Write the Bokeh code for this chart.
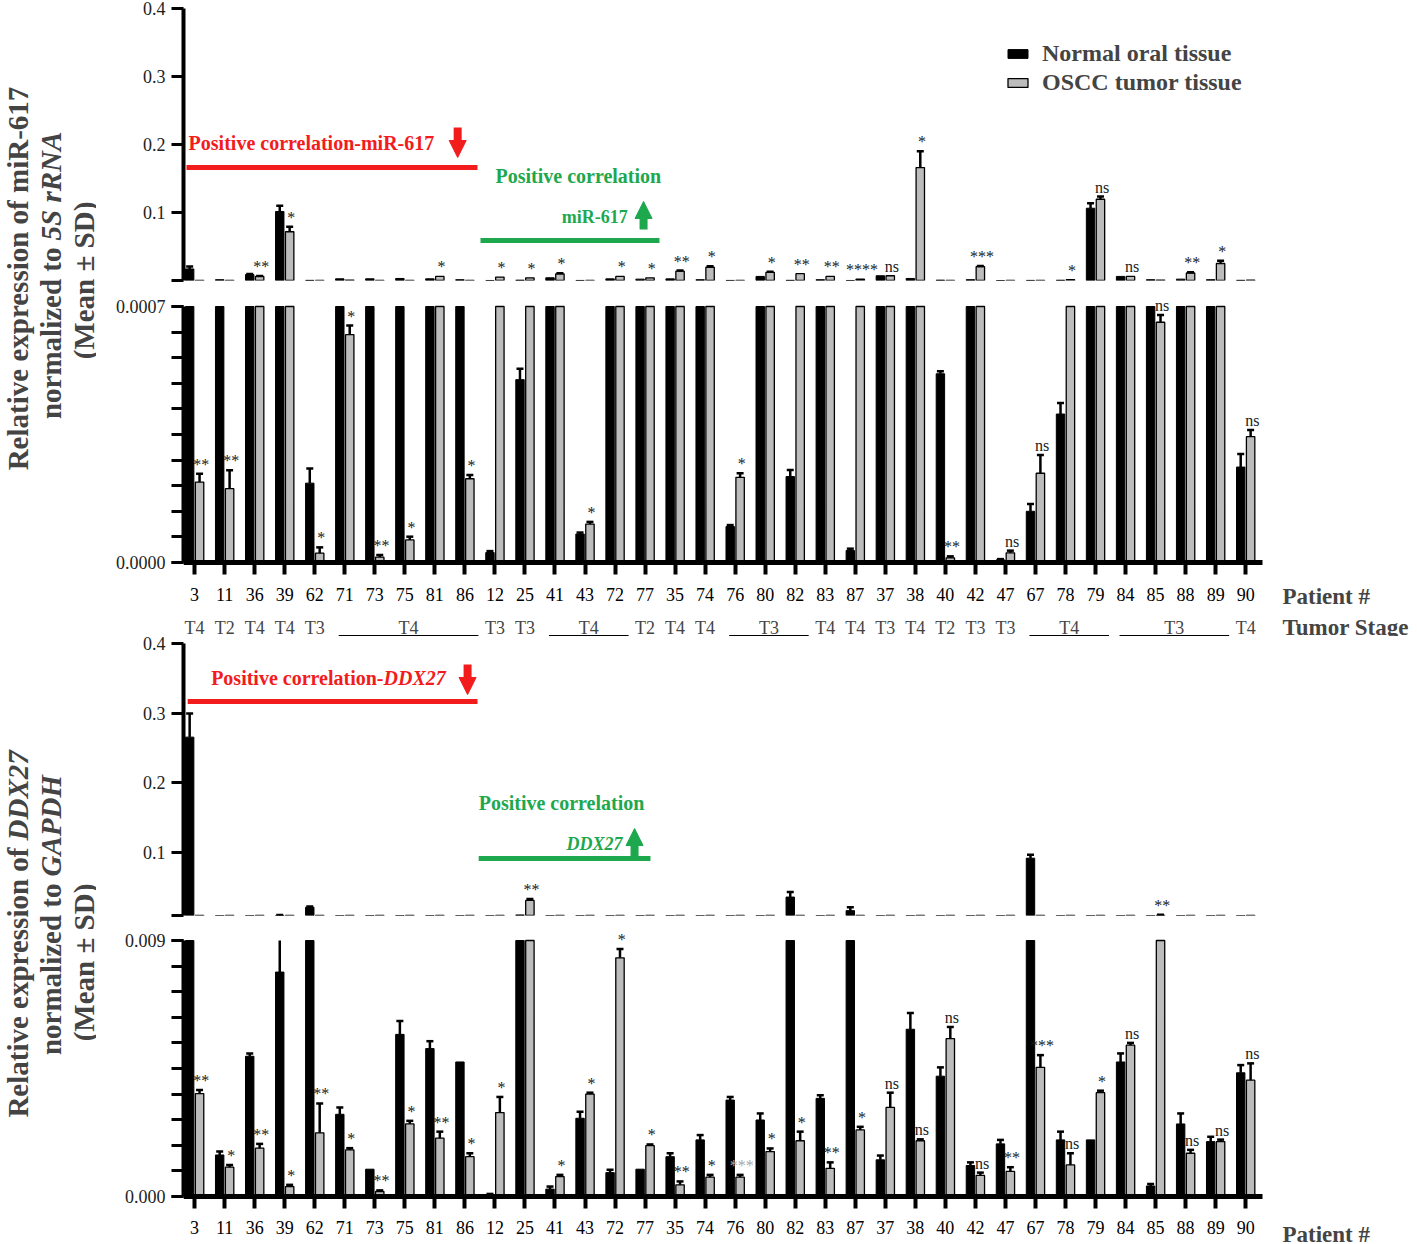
import math
import numpy as np
from bokeh.plotting import figure
from bokeh.models import (Range1d, FixedTicker, NumeralTickFormatter, Label, LabelSet, Arrow,
                          NormalHead, Legend, LegendItem, ColumnDataSource)
from bokeh.layouts import row, column
from bokeh.embed import file_html
from bokeh.resources import INLINE
from bokeh.core.properties import value

# ---------------- data ----------------
patients = ["3", "11", "36", "39", "62", "71", "73", "75", "81", "86",
            "12", "25", "41", "43", "72", "77", "35", "74",
            "76", "80", "82", "83", "87", "37", "38", "40", "42", "47",
            "67", "78", "79", "84", "85", "88", "89", "90"]
stages = ["T4", "T2", "T4", "T4", "T3", "T4", "T4", "T4", "T4", "T4",
          "T3", "T3", "T4", "T4", "T4", "T2", "T4", "T4",
          "T3", "T3", "T3", "T4", "T4", "T3", "T4", "T2", "T3", "T3",
          "T4", "T4", "T4", "T3", "T3", "T3", "T3", "T4"]
stage_groups = [("71", "86"), ("41", "72"), ("76", "82"), ("67", "79"), ("84", "89")]

# miR-617 normalized to 5S rRNA
mir_normal = [0.017, 0.0012, 0.0088, 0.1015, 0.000217, 0.0025, 0.0025, 0.003, 0.0025, 0.0012,
              0.0000272, 0.0005, 0.004, 0.0000779, 0.0024, 0.002, 0.0024, 0.0012,
              0.0000984, 0.006, 0.000235, 0.0012, 0.0000328, 0.007, 0.003, 0.000516, 0.0012, 0.0000073,
              0.00014, 0.000406, 0.1063, 0.006, 0.0012, 0.002, 0.0012, 0.000261]
mir_normal_sd = [0.0035, 0, 0.0008, 0.0085, 0.00004, 0, 0, 0, 0, 0,
                 0.000004, 0.00003, 0, 0.000004, 0, 0, 0, 0,
                 0.000004, 0, 0.000018, 0, 0.000005, 0, 0, 0.000007, 0, 0.000002,
                 0.00002, 0.00003, 0.0074, 0, 0, 0, 0, 0.000036]
mir_tumor = [0.00022, 0.000202, 0.006, 0.0717, 0.0000254, 0.000623, 0.0000145, 0.0000616, 0.006, 0.000229,
             0.005, 0.004, 0.0098, 0.000105, 0.006, 0.004, 0.0137, 0.0195,
             0.000233, 0.012, 0.01, 0.006, 0.002, 0.007, 0.166, 0.0000128, 0.0205, 0.0000264,
             0.000244, 0.0012, 0.1195, 0.006, 0.000657, 0.011, 0.025, 0.000344]
mir_tumor_sd = [0.000023, 0.00005, 0.0008, 0.0073, 0.000016, 0.000025, 0.000006, 0.000009, 0, 0.00001,
                0, 0, 0.001, 0.000006, 0, 0, 0.001, 0.0015,
                0.000011, 0.001, 0, 0, 0, 0, 0.024, 0.000004, 0.001, 0.000006,
                0.00005, 0, 0.004, 0, 0.00002, 0.001, 0.004, 0.000018]
mir_sig = ["**", "**", "**", "*", "*", "*", "**", "*", "*", "*",
           "*", "*", "*", "*", "*", "*", "**", "*",
           "*", "*", "**", "**", "****", "ns", "*", "**", "***", "ns",
           "ns", "*", "ns", "ns", "ns", "**", "*", "ns"]

# DDX27 normalized to GAPDH
ddx_normal = [0.2654, 0.00146, 0.00493, 0.00789, 0.0209, 0.00289, 0.00096, 0.0057, 0.0052, 0.00473,
              0.00006, 0.0098, 0.00026, 0.00275, 0.00084, 0.00096, 0.0014, 0.00199,
              0.00339, 0.00269, 0.0355, 0.00345, 0.016, 0.00129, 0.00588, 0.00423, 0.00109, 0.00185,
              0.0914, 0.00199, 0.00199, 0.00473, 0.00037, 0.00255, 0.00193, 0.00435]
ddx_normal_sd = [0.034, 0.00012, 0.0001, 0.0019, 0.001, 0.00024, 0, 0.00047, 0.00026, 0,
                 0.00003, 0, 0.00009, 0.00023, 0.0001, 0, 0.00012, 0.00017,
                 0.00011, 0.00023, 0.0073, 0.00011, 0.005, 0.00015, 0.00057, 0.00031, 0.00011, 0.00014,
                 0.005, 0.00029, 0, 0.0003, 0.00007, 0.00037, 0.00017, 0.00027]
ddx_tumor = [0.00362, 0.00103, 0.0017, 0.00035, 0.00224, 0.00164, 0.000175, 0.00255, 0.00205, 0.0014,
             0.00295, 0.0306, 0.0007, 0.0036, 0.00839, 0.00179, 0.00041, 0.00068,
             0.00068, 0.00158, 0.00196, 0.00099, 0.00234, 0.00313, 0.00196, 0.00555, 0.00074, 0.00088,
             0.00454, 0.00111, 0.00365, 0.00532, 0.0093, 0.00152, 0.00193, 0.00409]
ddx_tumor_sd = [0.00012, 0.00008, 0.00015, 0.00006, 0.00103, 0.00006, 0.00004, 0.00011, 0.00023, 0.00012,
                0.00055, 0.002, 0.00006, 0.00005, 0.00031, 0.00004, 0.00012, 0.00008,
                0.00008, 0.00011, 0.00032, 0.00021, 0.00011, 0.00052, 0.00005, 0.00041, 0.0001, 0.00015,
                0.00043, 0.00041, 0.00007, 0.00008, 0.0009, 0.00012, 0.00007, 0.00059]
ddx_sig = ["**", "*", "**", "*", "**", "*", "**", "*", "**", "*",
           "*", "**", "*", "*", "*", "*", "**", "*",
           "***", "*", "*", "**", "*", "ns", "ns", "ns", "ns", "**",
           "***", "ns", "*", "ns", "**", "ns", "ns", "ns"]
ddx_sig_faint = ["76"]

series_names = ["Normal oral tissue", "OSCC tumor tissue"]

# ---------------- style ----------------
SERIF = "Liberation Serif"
BLACK = "#000000"
GRAY = "#bcbcbc"
RED = "#f21c1c"
GREEN = "#1ea84e"
PX_X = 30.03                 # pixels per patient slot
FRAME_W = 1233
X_LO = -0.37
X_HI = X_LO + FRAME_W / PX_X
X_END = 35.56                # end of the drawn x axis
FIG_W = 87 + FRAME_W
idx = np.arange(len(patients))
pos = {p: i for i, p in enumerate(patients)}


def base_fig(height, ystart, yend, top, bottom, ybounds, xaxis=False):
    p = figure(width=FIG_W, height=height, x_range=Range1d(X_LO, X_HI), y_range=Range1d(ystart, yend),
               output_backend="svg", toolbar_location=None,
               x_axis_location="below" if xaxis else None,
               min_border_left=87, min_border_right=0, min_border_top=top, min_border_bottom=bottom)
    p.xgrid.visible = False
    p.ygrid.visible = False
    p.outline_line_color = None
    p.background_fill_color = "white"
    p.border_fill_color = "white"
    ax = p.yaxis[0]
    ax.bounds = ybounds
    ax.axis_line_width = 4
    ax.major_tick_line_width = 3
    ax.minor_tick_line_width = 3
    ax.major_tick_in = 0
    ax.major_tick_out = 12
    ax.minor_tick_in = 0
    ax.minor_tick_out = 12
    ax.major_label_text_font = SERIF
    ax.major_label_text_font_size = "18px"
    ax.major_label_text_color = "#222222"
    ax.major_label_standoff = 6
    if xaxis:
        xa = p.xaxis[0]
        xa.fixed_location = 0
        xa.bounds = (X_LO, X_END)
        xa.ticker = FixedTicker(ticks=list(range(len(patients))))
        xa.major_label_overrides = {i: s for i, s in enumerate(patients)}
        xa.axis_line_width = 5
        xa.major_tick_line_width = 4
        xa.major_tick_in = 0
        xa.major_tick_out = 12
        xa.minor_tick_line_color = None
        xa.major_label_text_font = SERIF
        xa.major_label_text_font_size = "18px"
        xa.major_label_text_color = BLACK
    return p


def draw_bars(p, normal, nsd, tumor, tsd, low=None, brk=None):
    """low: lower-section maximum (bars are cut there); brk: break value of an upper section."""
    n = np.array(normal, dtype=float)
    t = np.array(tumor, dtype=float)
    if low is not None:
        n_top, t_top = np.minimum(n, low), np.minimum(t, low)
    else:
        n_top, t_top = n, t
    src = ColumnDataSource(dict(xn=idx - 0.165, xt=idx + 0.165, n=n_top, t=t_top))
    rn = p.vbar(x="xn", top="n", bottom=0, width=0.28, source=src,
                fill_color=BLACK, line_color=BLACK, line_width=1)
    rt = p.vbar(x="xt", top="t", bottom=0, width=0.28, source=src,
                fill_color=GRAY, line_color=BLACK, line_width=1.3)
    ex, e0, e1, cx, cy = [], [], [], [], []
    for vals, sds, off in ((normal, nsd, -0.165), (tumor, tsd, 0.165)):
        for i, (v, s) in enumerate(zip(vals, sds)):
            if s <= 0:
                continue
            if low is not None:
                if v >= low:
                    continue
                ex.append(i + off); e0.append(v); e1.append(min(v + s, low))
                if v + s <= low:
                    cx.append(i + off); cy.append(v + s)
            else:
                if v + s <= brk:
                    continue
                ex.append(i + off); e0.append(max(v, brk)); e1.append(v + s)
                cx.append(i + off); cy.append(v + s)
    p.segment(x0=ex, y0=e0, x1=ex, y1=e1, line_color=BLACK, line_width=2.5)
    p.scatter(x=cx, y=cy, marker="dash", size=7, line_color=BLACK, line_width=2.5)
    return rn, rt


def sig_labels(p, tumor, tsd, sigs, low, upper, faint=()):
    for shade, keep in (("#1a1a1a", False), ("#aaaaaa", True)):
        xs, ys, ts = [], [], []
        for i, (v, s, t) in enumerate(zip(tumor, tsd, sigs)):
            top = v + s
            in_upper = top > low
            if in_upper != upper or ((patients[i] in faint) != keep):
                continue
            xs.append(i + 0.22)
            ys.append(top)
            ts.append(t)
        if xs:
            src = ColumnDataSource(dict(x=xs, y=ys, text=ts))
            p.add_layout(LabelSet(x="x", y="y", text="text", source=src, text_color=value(shade),
                                  text_font=value(SERIF), text_font_size=value("16px"),
                                  text_align="center", text_baseline="bottom", y_offset=1))


def note(p, text, x, y, color, align="left", italic=False, size="20px"):
    p.add_layout(Label(x=x, y=y, text=text, text_color=color, text_align=align,
                       text_baseline="middle", text_font=SERIF, text_font_size=size,
                       text_font_style="bold italic" if italic else "bold"))


def hline(p, x0, x1, y, color, width):
    p.add_layout(Arrow(x_start=x0, y_start=y, x_end=x1, y_end=y, start=None, end=None,
                       line_color=color, line_width=width))


def block_arrow(p, x, y0, y1, color):
    p.add_layout(Arrow(x_start=x, y_start=y0, x_end=x, y_end=y1, line_color=color, line_width=8,
                       end=NormalHead(size=17, fill_color=color, line_color=color)))


def stage_row(p, px_unit):
    for i, st in enumerate(stages):
        if not any(pos[a] <= i <= pos[b] for a, b in stage_groups):
            p.add_layout(Label(x=i, y=0, y_offset=-65, text=st, text_align="center", text_baseline="middle",
                               text_font=SERIF, text_font_size="18px"))
    for a, b in stage_groups:
        x0, x1 = pos[a] - 0.2, pos[b] + 0.45
        p.add_layout(Label(x=(x0 + x1) / 2, y=0, y_offset=-65, text=stages[pos[a]], text_align="center",
                           text_baseline="middle", text_font=SERIF, text_font_size="18px"))
        hline(p, x0, x1, -74 * px_unit, BLACK, 3)


def side_label(p, text, y_off):
    p.add_layout(Label(x=X_END + 20 / PX_X, y=0, y_offset=y_off, text=text, text_baseline="middle",
                       text_font=SERIF, text_font_size="23px", text_font_style="bold"))


# ---------------- panel 1 (miR-617) ----------------
LOW1 = 0.0007
A = base_fig(293, 0, 0.4, 8, 13, (0, 0.4))
A.yaxis[0].ticker = FixedTicker(ticks=[0.1, 0.2, 0.3, 0.4], minor_ticks=[0])
A.yaxis[0].formatter = NumeralTickFormatter(format="0.0")
rn, rt = draw_bars(A, mir_normal, mir_normal_sd, mir_tumor, mir_tumor_sd, brk=LOW1)
sig_labels(A, mir_tumor, mir_tumor_sd, mir_sig, LOW1, True)
note(A, "Positive correlation-miR-617", -0.2, 0.2029, RED)
block_arrow(A, 8.76, 0.225, 0.1809, RED)
hline(A, -0.27, 9.42, 0.1662, RED, 5)
note(A, "Positive correlation", 10.02, 0.1544, GREEN)
note(A, "miR-617", 14.42, 0.0941, GREEN, align="right", size="18px")
block_arrow(A, 14.95, 0.075, 0.1162, GREEN)
hline(A, 9.52, 15.48, 0.0588, GREEN, 5)
legend = Legend(items=[LegendItem(label=series_names[0], renderers=[rn]),
                       LegendItem(label=series_names[1], renderers=[rt])],
                location=(822, 184), padding=0, margin=0, spacing=2,
                glyph_width=25, glyph_height=11, label_height=20, label_standoff=12,
                label_text_font=SERIF, label_text_font_size="24px", label_text_font_style="bold",
                border_line_color=None, background_fill_alpha=0)
A.add_layout(legend)

PXB = LOW1 / 256.0
B = base_fig(343, -74 * PXB, LOW1 + 13 * PXB, 0, 0, (0, LOW1), xaxis=True)
B.yaxis[0].ticker = FixedTicker(ticks=[0, LOW1], minor_ticks=[LOW1 * k / 10 for k in range(11)])
B.yaxis[0].formatter = NumeralTickFormatter(format="0.0000")
B.xaxis[0].major_label_standoff = 13
draw_bars(B, mir_normal, mir_normal_sd, mir_tumor, mir_tumor_sd, low=LOW1)
sig_labels(B, mir_tumor, mir_tumor_sd, mir_sig, LOW1, False)
stage_row(B, PXB)
side_label(B, "Patient #", -34)
side_label(B, "Tumor Stage", -65)

# ---------------- panel 2 (DDX27) ----------------
LOW2 = 0.009
C = base_fig(291, LOW2, 0.4, 7, 12, (LOW2, 0.4))
C.yaxis[0].ticker = FixedTicker(ticks=[0.1, 0.2, 0.3, 0.4], minor_ticks=[LOW2])
C.yaxis[0].formatter = NumeralTickFormatter(format="0.0")
draw_bars(C, ddx_normal, ddx_normal_sd, ddx_tumor, ddx_tumor_sd, brk=LOW2)
sig_labels(C, ddx_tumor, ddx_tumor_sd, ddx_sig, LOW2, True, ddx_sig_faint)
note(C, "Positive correlation-", 6.29, 0.3511, RED, align="right")
note(C, "DDX27", 6.29, 0.3511, RED, italic=True)
block_arrow(C, 9.09, 0.3698, 0.3267, RED)
hline(C, -0.23, 9.42, 0.3166, RED, 5)
note(C, "Positive correlation", 9.46, 0.1714, GREEN)
note(C, "DDX27", 14.25, 0.1125, GREEN, align="right", italic=True, size="18px")
block_arrow(C, 14.65, 0.0938, 0.134, GREEN)
hline(C, 9.46, 15.18, 0.0909, GREEN, 5)

PXD = LOW2 / 256.0
D = base_fig(316, -47 * PXD, LOW2 + 13 * PXD, 0, 0, (0, LOW2), xaxis=True)
D.yaxis[0].ticker = FixedTicker(ticks=[0, LOW2], minor_ticks=[LOW2 * k / 10 for k in range(11)])
D.yaxis[0].formatter = NumeralTickFormatter(format="0.000")
D.xaxis[0].major_label_standoff = 12
draw_bars(D, ddx_normal, ddx_normal_sd, ddx_tumor, ddx_tumor_sd, low=LOW2)
sig_labels(D, ddx_tumor, ddx_tumor_sd, ddx_sig, LOW2, False, ddx_sig_faint)
side_label(D, "Patient #", -38)


# ---------------- y-axis titles ----------------
def title_fig(height, parts):
    p = figure(width=96, height=height, x_range=Range1d(0, 96), y_range=Range1d(height, 0),
               output_backend="svg", toolbar_location=None, x_axis_location=None, y_axis_location=None,
               min_border=0)
    p.outline_line_color = None
    p.grid.visible = False
    for text, x, y, align, italic in parts:
        p.add_layout(Label(x=x, y=y, text=text, angle=math.pi / 2, text_align=align,
                           text_baseline="middle", text_font=SERIF, text_font_size="29px",
                           text_font_style="bold italic" if italic else "bold"))
    return p


T1 = title_fig(636, [
    ("Relative expression of miR-617", 17, 278, "center", False),
    ("normalized to", 50, 247, "right", False),
    ("5S rRNA", 50, 240, "left", True),
    ("(Mean ± SD)", 83, 280, "center", False),
])
T2 = title_fig(607, [
    ("Relative expression of", 17, 840 - 636 + 7, "right", False),
    ("DDX27", 17, 840 - 636, "left", True),
    ("normalized to", 50, 876 - 636 + 7, "right", False),
    ("GAPDH", 50, 876 - 636, "left", True),
    ("(Mean ± SD)", 83, 962 - 636, "center", False),
])

layout = row(column(T1, T2, spacing=0), column(A, B, C, D, spacing=0), spacing=0)
open("out.html", "w").write(file_html(layout, INLINE))
